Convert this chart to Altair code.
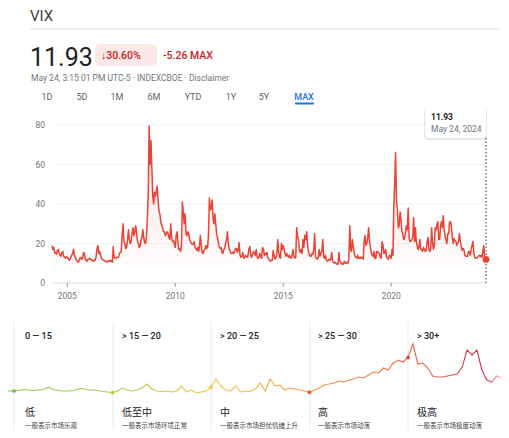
import altair as alt
import pandas as pd

W, H = 493, 422
LATIN = "Roboto, Arial, sans-serif"
CJK = "Noto Sans CJK SC, sans-serif"

# ---------------- data ----------------
# VIX, approx. values at the 1st and 16th of each month (2004 starts Apr 16)
VIX_HALF_MONTH = {
    2004: [19.0, 17.0, 18.0, 15.5, 15.0, 14.5, 16.5, 17.0, 15.0, 14.0, 13.5, 15.5, 16.0, 13.5, 13.0, 12.5, 13.3],
    2005: [13.0, 12.5, 11.5, 12.0, 13.0, 14.0, 15.0, 17.0, 14.0, 13.0, 11.5, 11.0, 10.5, 11.0, 12.5, 13.0, 12.0, 12.5, 15.5, 15.0, 12.0, 11.5, 11.0, 12.0],
    2006: [12.0, 12.5, 12.0, 11.5, 11.5, 11.0, 11.5, 11.5, 13.0, 17.0, 19.0, 15.0, 16.0, 14.0, 12.5, 12.0, 11.5, 11.5, 11.0, 11.0, 10.5, 11.0, 11.0, 11.5],
    2007: [11.0, 11.5, 10.5, 18.5, 13.0, 12.5, 12.5, 13.0, 13.0, 13.0, 15.0, 15.5, 16.0, 24.0, 30.0, 21.0, 20.0, 17.5, 18.0, 22.0, 27.0, 22.0, 20.0, 21.0],
    2008: [25.0, 28.0, 24.0, 25.5, 29.0, 26.0, 21.0, 20.0, 18.0, 18.5, 22.0, 23.0, 27.0, 23.0, 20.5, 20.0, 24.0, 33.0, 45.0, 79.5, 60.0, 72.0, 58.0, 44.0],
    2009: [40.0, 46.0, 44.0, 47.0, 49.0, 42.0, 36.0, 35.0, 31.0, 29.0, 28.0, 26.0, 26.0, 24.0, 25.0, 26.0, 25.0, 23.0, 22.0, 30.0, 23.0, 21.0, 21.5, 20.0],
    2010: [18.0, 24.0, 26.0, 20.0, 17.0, 17.5, 16.0, 19.0, 41.0, 36.0, 30.0, 35.0, 25.0, 24.0, 26.0, 25.0, 22.0, 21.0, 20.0, 19.5, 20.0, 21.0, 18.0, 17.5],
    2011: [16.5, 18.0, 16.0, 19.0, 24.0, 19.0, 15.5, 15.0, 16.5, 17.0, 19.0, 17.5, 18.0, 24.0, 43.0, 37.0, 38.0, 42.0, 33.0, 30.0, 35.0, 30.0, 25.0, 23.0],
    2012: [20.0, 18.0, 17.5, 18.0, 15.5, 15.0, 17.0, 17.5, 20.0, 22.0, 26.0, 20.0, 17.0, 16.5, 15.0, 15.0, 15.5, 15.0, 16.0, 17.5, 17.5, 15.5, 16.5, 20.5],
    2013: [14.0, 13.0, 13.5, 15.5, 13.0, 12.5, 14.0, 13.5, 13.0, 14.0, 17.5, 18.5, 14.0, 13.0, 14.5, 16.0, 15.0, 14.0, 17.0, 13.5, 12.5, 13.0, 15.0, 13.5],
    2014: [12.5, 18.0, 17.0, 14.0, 15.0, 14.5, 15.5, 13.0, 12.0, 11.5, 11.0, 11.5, 11.5, 16.5, 14.0, 12.0, 13.0, 15.0, 22.0, 16.0, 13.0, 12.5, 20.0, 17.0],
    2015: [19.0, 17.0, 15.0, 13.5, 15.0, 14.0, 13.0, 14.0, 13.0, 12.5, 14.0, 17.0, 13.5, 12.5, 13.0, 28.0, 23.5, 22.0, 17.0, 15.5, 17.0, 15.0, 22.0, 18.0],
    2016: [24.0, 22.0, 26.0, 20.0, 16.0, 14.5, 13.5, 13.5, 15.0, 14.5, 17.0, 25.0, 13.0, 12.5, 12.0, 13.0, 17.0, 13.5, 15.0, 16.0, 22.0, 13.0, 12.5, 14.0],
    2017: [11.5, 11.0, 11.5, 12.0, 11.5, 12.0, 15.5, 11.0, 10.5, 10.0, 10.5, 10.0, 9.5, 9.5, 15.5, 11.0, 10.5, 9.5, 10.0, 9.5, 11.0, 10.0, 10.0, 10.5],
    2018: [10.0, 13.0, 29.0, 17.0, 16.0, 22.0, 18.0, 15.5, 13.5, 13.0, 12.5, 14.0, 12.5, 12.5, 13.0, 12.5, 13.0, 12.0, 21.0, 24.0, 19.0, 20.0, 23.0, 28.0],
    2019: [21.0, 18.0, 15.0, 14.0, 13.5, 16.0, 12.5, 12.5, 16.0, 16.0, 15.0, 15.0, 13.0, 12.5, 21.0, 19.0, 15.0, 15.5, 17.0, 13.0, 12.5, 12.0, 14.0, 13.5],
    2020: [12.5, 17.0, 14.0, 40.0, 50.0, 66.0, 41.0, 37.0, 28.0, 29.0, 36.0, 32.0, 26.0, 25.0, 22.0, 22.5, 26.0, 29.0, 27.0, 38.0, 23.0, 21.0, 21.0, 22.0],
    2021: [23.0, 33.0, 21.0, 28.0, 21.0, 19.0, 17.0, 18.0, 22.0, 17.0, 17.0, 16.0, 18.0, 17.0, 16.0, 16.5, 21.0, 23.0, 17.0, 16.0, 17.0, 28.0, 21.0, 17.0],
    2022: [19.0, 28.0, 27.0, 30.0, 31.0, 22.0, 22.0, 29.0, 31.0, 28.0, 34.0, 27.0, 24.0, 22.0, 20.0, 25.0, 25.0, 31.0, 31.0, 29.0, 23.0, 20.0, 22.5, 21.5],
    2023: [21.0, 19.0, 20.0, 21.0, 25.0, 21.5, 18.5, 16.5, 17.5, 17.0, 14.0, 13.5, 13.5, 13.5, 16.0, 16.0, 14.0, 17.0, 19.0, 21.0, 15.0, 13.0, 12.5, 12.5],
    2024: [13.0, 13.5, 14.0, 13.5, 14.0, 13.0, 16.0, 19.0, 13.0, 12.5],
}
FIRST_SLOT = {2004: 7}
LAST_DATE, LAST_VALUE = "2024-05-24", 11.93

Y_TICKS = [0, 20, 40, 60, 80]
X_TICKS = [2005, 2010, 2015, 2020]

# decorative sentiment sparkline in the bottom panel
BOTTOM_SERIES = [9, 9, 9, 9.5, 10.5, 10, 9.5, 10, 10.5, 13, 10.5, 9.5, 9, 9, 9.5, 11, 11.5, 10, 10, 9.5,
                 8.5, 8, 7.3, 9, 12, 10, 9, 10, 12, 16, 11, 9, 8.5, 9, 8, 9, 14, 8, 10, 7,
                 8, 9, 13, 21, 14, 10, 9, 14, 8, 9, 8.5, 11, 17, 9, 21, 14, 15, 10, 12, 11,
                 10, 9, 7.7, 10, 12, 15, 16, 17, 19, 18, 20, 21, 23, 22, 25, 28, 27, 32, 30, 37,
                 40, 38, 42.5, 56, 36, 37, 32, 24, 23, 23, 24, 25, 26, 33, 50, 45, 50, 30, 20, 18,
                 24, 22, 22]
BOUNDARY_IDX = [2, 22, 42, 62, 82]
BOUNDARY_COLORS = ["#7CB342", "#C0CA33", "#FBC02D", "#F4511E", "#E53935"]

RANGES = ["0 — 15", "> 15 — 20", "> 20 — 25", "> 25 — 30", "> 30+"]
LEVELS = ["低", "低至中", "中", "高", "极高"]
DESCS = ["一般表示市场乐观", "一般表示市场环境正常", "一般表示市场担忧情绪上升", "一般表示市场动荡", "一般表示市场极度动荡"]
TABS = ["1D", "5D", "1M", "6M", "YTD", "1Y", "5Y", "MAX"]


def dec_year(ts):
    ts = pd.Timestamp(ts)
    days = 366 if ts.is_leap_year else 365
    return ts.year + (ts.dayofyear - 1) / days


rows = []
for year, vals in VIX_HALF_MONTH.items():
    s0 = FIRST_SLOT.get(year, 0)
    for k, v in enumerate(vals):
        s = s0 + k
        d = pd.Timestamp(year=year, month=s // 2 + 1, day=1 if s % 2 == 0 else 16)
        rows.append({"yr": dec_year(d), "v": v})
rows.append({"yr": dec_year(LAST_DATE), "v": LAST_VALUE})
vix = pd.DataFrame(rows)
last = vix.tail(1)

X0, X1 = vix["yr"].min(), vix["yr"].max()
X_SC = alt.Scale(domain=[X0, X1], range=[44, 478], nice=False, zero=False)
Y_SC = alt.Scale(domain=[0, 80], range=[275, 117], nice=False, zero=False)

ONE = pd.DataFrame({"k": [0]})


def txt(s, x, y, size, color, weight="normal", font=LATIN, align="left", baseline="alphabetic"):
    return alt.Chart(ONE).mark_text(text=s, fontSize=size, color=color, fontWeight=weight,
                                    font=font, align=align, baseline=baseline).encode(
        x=alt.value(x), y=alt.value(y))


def rect(x1, y1, x2, y2, color, r=0, opacity=1.0):
    return alt.Chart(ONE).mark_rect(color=color, cornerRadius=r, opacity=opacity).encode(
        x=alt.value(x1), x2=alt.value(x2), y=alt.value(y1), y2=alt.value(y2))


def rule(x1, y1, x2, y2, color, w=1.0):
    return alt.Chart(ONE).mark_rule(color=color, strokeWidth=w).encode(
        x=alt.value(x1), x2=alt.value(x2), y=alt.value(y1), y2=alt.value(y2))


layers = []

# ---------------- header ----------------
layers.append(txt("VIX", 22, 0.5, 15, "#3c4043", baseline="top"))
layers.append(rule(22, 21, 493, 21, "#e0e0e0"))
layers.append(txt("11.93", 22, 58, 25, "#202124"))
layers.append(rect(87, 36, 149, 58, "#FCE8E6", r=5))
layers.append(txt("↓30.60%", 93, 50.5, 10.5, "#C5221F", weight=500))
layers.append(txt("-5.26 MAX", 155, 50.5, 10.5, "#C5221F", weight=500))
layers.append(txt("May 24, 3:15:01 PM UTC-5 · INDEXCBOE · Disclaimer", 23, 72.5, 8.5, "#70757a"))
TAB_X = [39, 74, 109, 146, 185, 223, 256, 296]
for t, x in zip(TABS, TAB_X):
    sel = t == "MAX"
    layers.append(txt(t, x, 91.5, 9, "#1a73e8" if sel else "#5f6368",
                      weight=500 if sel else "normal", align="center"))
layers.append(rect(287, 94.5, 306, 96.5, "#1a73e8", r=1))

# ---------------- main chart ----------------
grid = pd.DataFrame({"v": Y_TICKS[1:], "a": X0, "b": X1})
layers.append(alt.Chart(grid).mark_rule(color="#f1f3f4", strokeWidth=1).encode(
    y=alt.Y("v:Q", scale=Y_SC, axis=None),
    x=alt.X("a:Q", scale=X_SC, axis=None), x2="b:Q"))
base = pd.DataFrame({"v": [0], "a": X0, "b": X1})
layers.append(alt.Chart(base).mark_rule(color="#dadce0", strokeWidth=1).encode(
    y=alt.Y("v:Q", scale=Y_SC, axis=None),
    x=alt.X("a:Q", scale=X_SC, axis=None), x2="b:Q"))
ylab = pd.DataFrame({"v": Y_TICKS, "a": X0, "t": [str(v) for v in Y_TICKS]})
layers.append(alt.Chart(ylab).mark_text(align="right", baseline="middle", dx=-7, fontSize=8.5,
                                        color="#70757a", font=LATIN).encode(
    y=alt.Y("v:Q", scale=Y_SC, axis=None), x=alt.X("a:Q", scale=X_SC, axis=None), text="t:N"))
xt = pd.DataFrame({"yr": X_TICKS, "v": 0, "t": [str(y) for y in X_TICKS]})
layers.append(alt.Chart(xt).mark_tick(orient="vertical", size=4, thickness=1, yOffset=2,
                                      color="#70757a").encode(
    x=alt.X("yr:Q", scale=X_SC, axis=None), y=alt.Y("v:Q", scale=Y_SC, axis=None)))
layers.append(alt.Chart(xt).mark_text(baseline="middle", dy=13, fontSize=8.5, color="#70757a",
                                      font=LATIN).encode(
    x=alt.X("yr:Q", scale=X_SC, axis=None), y=alt.Y("v:Q", scale=Y_SC, axis=None), text="t:N"))

area_fill = alt.Gradient(gradient="linear", x1=0, x2=0, y1=0, y2=1, stops=[
    alt.GradientStop(offset=0, color="rgba(234,67,53,0.16)"),
    alt.GradientStop(offset=1, color="rgba(234,67,53,0.0)")])
layers.append(alt.Chart(vix).mark_area(fill=area_fill, line=False).encode(
    x=alt.X("yr:Q", scale=X_SC, axis=None), y=alt.Y("v:Q", scale=Y_SC, axis=None)))
layers.append(alt.Chart(vix).mark_line(color="#EA4335", strokeWidth=1.5, strokeJoin="round").encode(
    x=alt.X("yr:Q", scale=X_SC, axis=None), y=alt.Y("v:Q", scale=Y_SC, axis=None)))

# hover marker
layers.append(alt.Chart(last).mark_rule(color="#5f6368", strokeWidth=1.3, strokeDash=[1.5, 2]).encode(
    x=alt.X("yr:Q", scale=X_SC, axis=None), y=alt.Y("v:Q", scale=Y_SC, axis=None),
    y2=alt.value(130)).transform_calculate(v="0"))
layers.append(alt.Chart(last).mark_circle(size=45, color="#EA4335", opacity=1).encode(
    x=alt.X("yr:Q", scale=X_SC, axis=None), y=alt.Y("v:Q", scale=Y_SC, axis=None)))
layers.append(rect(416, 99, 479, 132, "#000000", r=5, opacity=0.10))
layers.append(rect(417, 99, 478, 130, "#ffffff", r=4))
layers.append(txt("11.93", 423, 109, 8.5, "#202124", weight="bold", baseline="middle"))
layers.append(txt("May 24, 2024", 423, 120.5, 8.5, "#70757a", baseline="middle"))

# ---------------- bottom panel ----------------
for x in [6, 105, 203, 302, 400]:
    layers.append(rule(x, 314, x, 422, "#e8eaed"))
LABEL_X = [17, 114, 212, 310, 409]
for x, r_, l_, d_ in zip(LABEL_X, RANGES, LEVELS, DESCS):
    layers.append(txt(r_, x, 328, 9, "#202124", weight=500, baseline="middle"))
    layers.append(txt(l_, x, 405, 10, "#202124", font=CJK, baseline="middle"))
    layers.append(txt(d_, x, 418, 6.5, "#3c4043", font=CJK, baseline="middle"))

BX_SC = alt.Scale(domain=[2, 82], range=[6, 400], nice=False, zero=False)
BY_SC = alt.Scale(domain=[0, 60], range=[392, 332], nice=False, zero=False)
bottom = pd.DataFrame({"i": range(len(BOTTOM_SERIES)), "lv": BOTTOM_SERIES})
line_grad = alt.Gradient(gradient="linear", x1=0, x2=1, y1=0, y2=0, stops=[
    alt.GradientStop(offset=0.0, color="#8BC34A"),
    alt.GradientStop(offset=0.20, color="#A9CB55"),
    alt.GradientStop(offset=0.30, color="#CFC94E"),
    alt.GradientStop(offset=0.41, color="#F2C23C"),
    alt.GradientStop(offset=0.50, color="#F5B44A"),
    alt.GradientStop(offset=0.61, color="#F39B4B"),
    alt.GradientStop(offset=0.72, color="#EF7F48"),
    alt.GradientStop(offset=0.80, color="#EC6445"),
    alt.GradientStop(offset=0.87, color="#E6605A"),
    alt.GradientStop(offset=0.93, color="#D62A45"),
    alt.GradientStop(offset=0.96, color="#DA3352"),
    alt.GradientStop(offset=0.98, color="#EE8A98"),
    alt.GradientStop(offset=1.0, color="#F6BCC4")])
layers.append(alt.Chart(bottom).mark_line(stroke=line_grad, strokeWidth=1.1).encode(
    x=alt.X("i:Q", scale=BX_SC, axis=None), y=alt.Y("lv:Q", scale=BY_SC, axis=None)))
dots = bottom.iloc[BOUNDARY_IDX].copy()
dots["c"] = BOUNDARY_COLORS
layers.append(alt.Chart(dots).mark_circle(size=14, opacity=1).encode(
    x=alt.X("i:Q", scale=BX_SC, axis=None), y=alt.Y("lv:Q", scale=BY_SC, axis=None),
    color=alt.Color("c:N", scale=None, legend=None)))

chart = alt.layer(*layers).resolve_scale(x="independent", y="independent").properties(
    width=W, height=H, padding=0, autosize=alt.AutoSizeParams(type="none"),
    background="white").configure_view(stroke=None)

chart.save("out.html", embed_options={"renderer": "svg", "actions": False})
